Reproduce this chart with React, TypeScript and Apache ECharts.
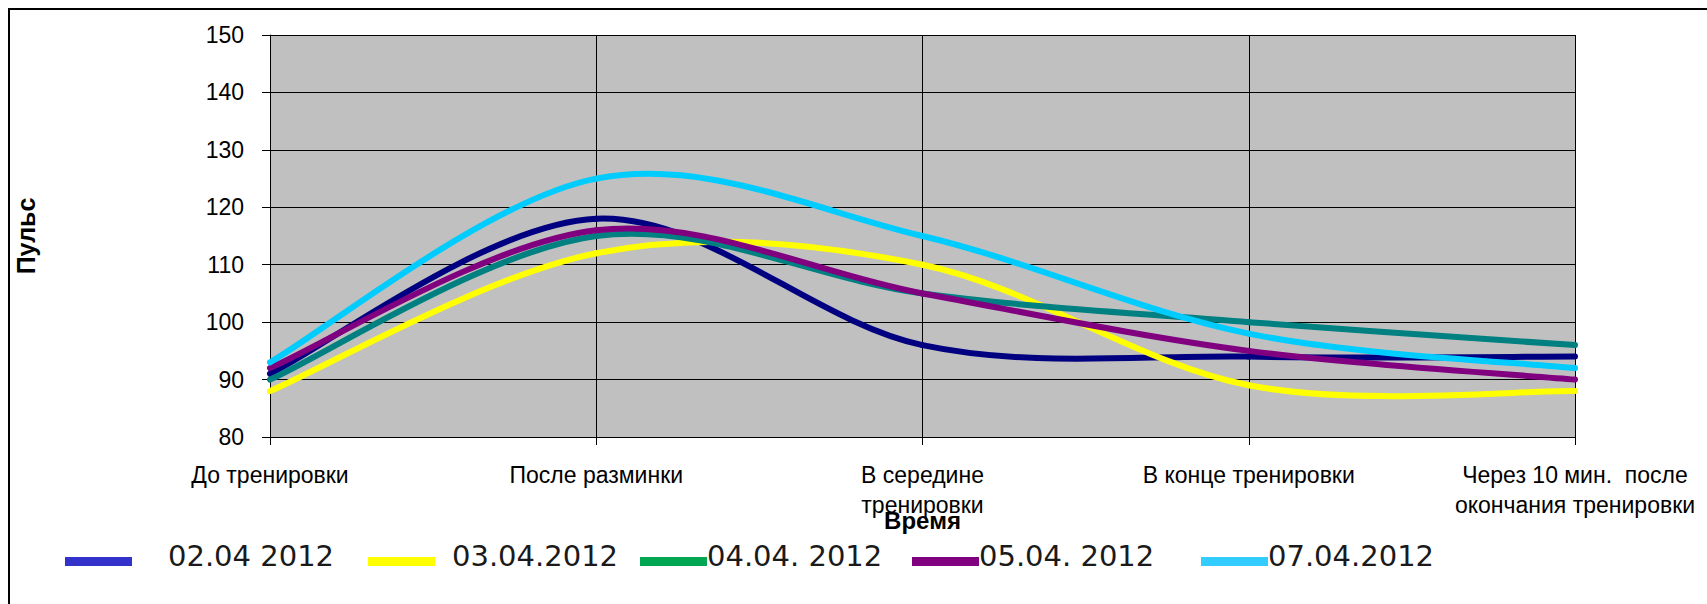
import React, { useEffect, useRef } from "react";
import * as echarts from "echarts";

const categories = [
  "До тренировки",
  "После разминки",
  "В середине\nтренировки",
  "В конце тренировки",
  "Через 10 мин.  после\nокончания тренировки",
];

const seriesNames = ["02.04 2012", "03.04.2012", "04.04. 2012", "05.04. 2012", "07.04.2012"];

const s0204 = [91, 118, 96, 94, 94];
const s0304 = [88, 112, 110, 89, 88];
const s0404 = [90, 115, 105, 100, 96];
const s0504 = [92, 116, 105, 95, 90];
const s0704 = [93, 125, 115, 98, 92];

const seriesValues = [s0204, s0304, s0404, s0504, s0704];

const lineColors = ["#000080", "#FFFF00", "#008080", "#800080", "#00CCFF"];
const legendColors = ["#3333CC", "#FFFF00", "#00A651", "#800080", "#33CCFF"];
const legendLefts = [65, 368, 640, 912, 1201];
const legendTextGaps = [31, 12, -5, -5, -5];

const yTicks = { min: 80, max: 150, interval: 10 };

// Smoothed (Catmull-Rom, as in spreadsheet "smoothed line") segment from point i to i+1
function makeRenderItem(color: string) {
  return (params: any, api: any) => {
    const i = params.dataIndexInside;
    const n = params.dataInsideLength;
    if (i >= n - 1) return null;
    const pt = (k: number) => {
      const kk = Math.max(0, Math.min(n - 1, k));
      return api.coord([api.value(0, kk), api.value(1, kk)]);
    };
    const p0 = pt(i - 1);
    const p1 = pt(i);
    const p2 = pt(i + 1);
    const p3 = pt(i + 2);
    return {
      type: "bezierCurve",
      shape: {
        x1: p1[0],
        y1: p1[1],
        cpx1: p1[0] + (p2[0] - p0[0]) / 6,
        cpy1: p1[1] + (p2[1] - p0[1]) / 6,
        cpx2: p2[0] - (p3[0] - p1[0]) / 6,
        cpy2: p2[1] - (p3[1] - p1[1]) / 6,
        x2: p2[0],
        y2: p2[1],
      },
      style: { stroke: color, lineWidth: 6, fill: "none", lineCap: "round" },
    };
  };
}

export default function App() {
  const ref = useRef<HTMLDivElement>(null);

  useEffect(() => {
    if (!ref.current) return;
    const chart = echarts.init(ref.current, null, { renderer: "svg" });
    const labelFont = "'Liberation Sans', Arial, sans-serif";

    const option: any = {
      animation: false,
      backgroundColor: "#ffffff",
      grid: {
        left: 270,
        right: 132,
        top: 35,
        bottom: 167,
        show: true,
        backgroundColor: "#C0C0C0",
        borderWidth: 0,
      },
      xAxis: {
        type: "category",
        data: categories,
        boundaryGap: false,
        name: "Время",
        nameLocation: "middle",
        nameGap: 71,
        nameMoveOverlap: false,
        nameTextStyle: {
          fontFamily: labelFont,
          fontWeight: "bold",
          fontSize: 24,
          color: "#000",
        },
        axisLine: { show: true, lineStyle: { color: "#000", width: 1 } },
        axisTick: { show: true, length: 8, lineStyle: { color: "#000" } },
        axisLabel: {
          interval: 0,
          margin: 23,
          fontFamily: labelFont,
          fontSize: 23,
          lineHeight: 30,
          color: "#000",
        },
        splitLine: { show: true, lineStyle: { color: "#000", width: 1 } },
      },
      yAxis: {
        type: "value",
        min: yTicks.min,
        max: yTicks.max,
        interval: yTicks.interval,
        name: "Пульс",
        nameLocation: "middle",
        nameGap: 232,
        nameMoveOverlap: false,
        nameTextStyle: {
          fontFamily: labelFont,
          fontWeight: "bold",
          fontSize: 25,
          color: "#000",
        },
        axisLine: { show: true, lineStyle: { color: "#000", width: 1 } },
        axisTick: { show: true, length: 8, lineStyle: { color: "#000" } },
        axisLabel: {
          margin: 26,
          fontFamily: labelFont,
          fontSize: 23,
          color: "#000",
        },
        splitLine: { show: true, lineStyle: { color: "#000", width: 1 } },
      },
      // legend texts; their colour keys are drawn below (graphic) so that they
      // can sit slightly lower than the texts, as in the reference
      legend: seriesNames.map((name, i) => ({
        data: [{ name, itemStyle: { color: legendColors[i], opacity: 0 } }],
        left: legendLefts[i],
        top: 539,
        padding: 0,
        icon: "rect",
        itemWidth: 67,
        itemHeight: 9,
        selectedMode: false,
        textStyle: {
          fontFamily: "'DejaVu Sans', sans-serif",
          fontSize: 29,
          lineHeight: 34,
          color: "#1a1a1a",
          padding: [0, 0, 0, legendTextGaps[i]],
        },
      })),
      series: seriesNames.map((name, i) => ({
        name,
        type: "custom",
        data: seriesValues[i].map((v, k) => [k, v]),
        encode: { x: 0, y: 1 },
        renderItem: makeRenderItem(lineColors[i]),
        itemStyle: { color: lineColors[i] },
        z: 3 + i,
      })),
      graphic: [
        {
          type: "rect",
          silent: true,
          shape: { x: 9, y: 9, width: 1720, height: 620 },
          style: { fill: "none", stroke: "#000", lineWidth: 2 },
        },
        ...legendColors.map((c, i) => ({
          type: "rect",
          silent: true,
          shape: { x: legendLefts[i], y: 557, width: 67, height: 9 },
          style: { fill: c },
        })),
      ],
    };

    chart.setOption(option);
    return () => chart.dispose();
  }, []);

  return (
    <div
      ref={ref}
      style={{ position: "fixed", left: 0, top: 0, width: 1707, height: 604 }}
    />
  );
}
